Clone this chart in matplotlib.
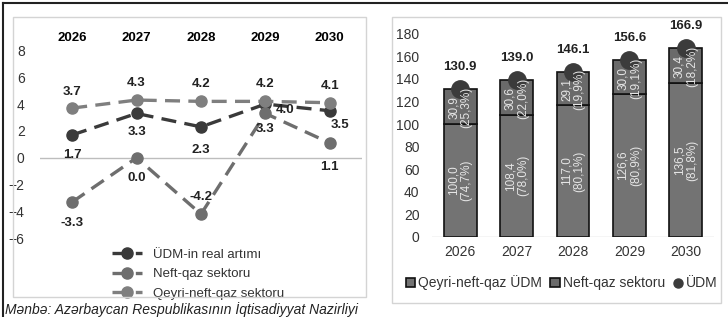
import matplotlib.pyplot as plt
import numpy as np
from matplotlib.patches import Rectangle
from matplotlib.lines import Line2D

# data
years = ['2026', '2027', '2028', '2029', '2030']
udm_growth = [1.7, 3.3, 2.3, 4.0, 3.5]
neft_growth = [-3.3, 0.0, -4.2, 3.3, 1.1]
qeyri_growth = [3.7, 4.3, 4.2, 4.2, 4.1]

qeyri_udm = [100.0, 108.4, 117.0, 126.6, 136.5]
neft_udm = [30.9, 30.6, 29.1, 30.0, 30.4]
udm_total = [130.9, 139.0, 146.1, 156.6, 166.9]
qeyri_pct = ['74,7', '78,0', '80,1', '80,9', '81,8']
neft_pct = ['25,3', '22,0', '19,9', '19,1', '18,2']

W, H = 728, 317
fig = plt.figure(figsize=(W / 100, H / 100), dpi=100)
plt.rcParams['font.family'] = ['Liberation Sans', 'DejaVu Sans']


def px(x0, y0, x1, y1):
    # pixel box (top-left origin) -> figure fraction [l, b, w, h]
    return [x0 / W, 1 - y1 / H, (x1 - x0) / W, (y1 - y0) / H]


# outer frame and panel boxes
fig.add_artist(Line2D([3 / W, 1], [1 - 3 / H, 1 - 3 / H], color='#222222', lw=1.5))
fig.add_artist(Line2D([3 / W, 3 / W], [0, 1 - 3 / H], color='#222222', lw=1.5))
for box in [(13, 17, 366, 297), (392, 17, 721, 303)]:
    l, b, w, h = px(*box)
    fig.add_artist(Rectangle((l, b), w, h, transform=fig.transFigure,
                             fill=False, edgecolor='#d4d4d4', lw=1))

# ---- left: growth rates ----
ax1 = fig.add_axes(px(40, 45, 362, 296))
x = np.arange(len(years))
c_udm, c_neft, c_qeyri = '#3a3a3a', '#6e6e6e', '#7f7f7f'
style = dict(lw=2.4, dashes=(4.5, 2.5), marker='o', markersize=8)
ax1.plot(x, udm_growth, color=c_udm, label='ÜDM-in real artımı', **style)
ax1.plot(x, neft_growth, color=c_neft, label='Neft-qaz sektoru', **style)
ax1.plot(x, qeyri_growth, color=c_qeyri, label='Qeyri-neft-qaz sektoru', **style)

ax1.axhline(0, color='#bdbdbd', lw=1, zorder=0)
ax1.set_xlim(-0.5, 4.5)
ax1.set_ylim(-10.3, 8.4)
ax1.set_yticks(range(-6, 9, 2))
ax1.set_xticks(x)
ax1.set_xticklabels(years, fontweight='bold', fontsize=9.5)
ax1.xaxis.tick_top()
ax1.tick_params(axis='x', length=0, pad=1)
ax1.tick_params(axis='y', length=0, pad=11, labelsize=10, labelcolor='#333333')
for s in ax1.spines.values():
    s.set_visible(False)

lab_kw = dict(textcoords='offset pixels', ha='center', va='center',
              fontsize=9.5, fontweight='bold', color='#222222')
udm_off = [(0, -20), (0, -19), (0, -23), (20, -6), (10, -14)]
neft_off = [(0, -21), (0, -20), (0, 17), (0, -16), (0, -24)]
qeyri_off = [(0, 16), (0, 17), (0, 17), (0, 17), (0, 17)]
for vals, offs in [(udm_growth, udm_off), (neft_growth, neft_off), (qeyri_growth, qeyri_off)]:
    for i, (v, o) in enumerate(zip(vals, offs)):
        ax1.annotate(f'{v:.1f}', (i, v), xytext=o, **lab_kw)

leg1 = ax1.legend(loc='upper center', bbox_to_anchor=(0.49, 0.225), frameon=False,
                  fontsize=9.5, handlelength=2.3, labelspacing=0.55,
                  borderpad=0.2)
for t in leg1.get_texts():
    t.set_color('#333333')

# ---- right: GDP structure ----
ax2 = fig.add_axes(px(432, 28, 714, 237))
bw = 0.58
b1 = ax2.bar(x, qeyri_udm, bw, color='#737373', edgecolor='#111111', lw=1.2,
             label='Qeyri-neft-qaz ÜDM')
b2 = ax2.bar(x, neft_udm, bw, bottom=qeyri_udm, color='#6a6a6a', edgecolor='#111111',
             lw=1.2, label='Neft-qaz sektoru')
ax2.plot(x, udm_total, 'o', color='#3b3b3b', markersize=12.5, zorder=3)

for i in range(len(years)):
    ax2.text(i, qeyri_udm[i] / 2, f'{qeyri_udm[i]:.1f}'.replace('.', ',') + f'\n({qeyri_pct[i]}%)',
             rotation=90, ha='center', va='center', color='#e6e6e6', fontsize=8.5,
             linespacing=1.1)
    ax2.text(i, qeyri_udm[i] + neft_udm[i] / 2 - 1,
             f'{neft_udm[i]:.1f}'.replace('.', ',') + f'\n({neft_pct[i]}%)',
             rotation=90, ha='center', va='center', color='#e6e6e6', fontsize=8.5,
             linespacing=1.1, zorder=4)
    ax2.annotate(f'{udm_total[i]:.1f}', (i, udm_total[i]), xytext=(0, 22),
                 textcoords='offset pixels', ha='center', va='center',
                 fontsize=9.5, fontweight='bold', color='#222222')

ax2.set_xlim(-0.5, 4.5)
ax2.set_ylim(0, 185)
ax2.set_yticks(range(0, 181, 20))
ax2.set_xticks(x)
ax2.set_xticklabels(years)
ax2.tick_params(axis='both', length=0, labelsize=10, labelcolor='#333333')
ax2.tick_params(axis='y', pad=9)
ax2.tick_params(axis='x', pad=6)
for s in ax2.spines.values():
    s.set_visible(False)
ax2.axhline(0, color='#cfcfcf', lw=1, zorder=0)

dot_handle = Line2D([], [], ls='none', marker='o', markersize=6.5, color='#3b3b3b')
leg2 = ax2.legend([b1, b2, dot_handle], ['Qeyri-neft-qaz ÜDM', 'Neft-qaz sektoru', 'ÜDM'],
                  loc='center', bbox_to_anchor=(0.46, -0.22), ncol=3, frameon=False,
                  fontsize=10, handlelength=0.7, handletextpad=0.2, columnspacing=0.6)
for t in leg2.get_texts():
    t.set_color('#333333')

fig.text(5 / W, 1 - 310 / H, 'Mənbə: Azərbaycan Respublikasının İqtisadiyyat Nazirliyi',
         fontsize=10, style='italic', va='center', ha='left', color='#222222')

fig.savefig('out.png', dpi=100, facecolor='white')
